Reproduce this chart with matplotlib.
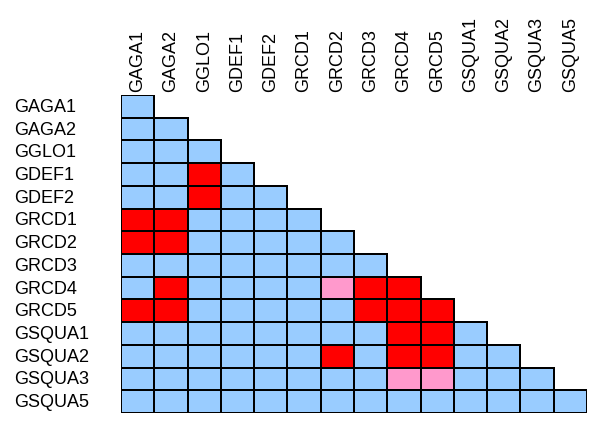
import matplotlib
matplotlib.use('Agg')
import matplotlib.pyplot as plt
import numpy as np
from matplotlib.colors import ListedColormap

plt.rcParams['font.family'] = ['Liberation Sans', 'DejaVu Sans']

# gene names (rows and columns)
genes = ['GAGA1', 'GAGA2', 'GGLO1', 'GDEF1', 'GDEF2', 'GRCD1', 'GRCD2',
         'GRCD3', 'GRCD4', 'GRCD5', 'GSQUA1', 'GSQUA2', 'GSQUA3', 'GSQUA5']

# lower triangle of the interaction matrix: 0 = none, 1 = strong, 2 = weak
rows = [
    [0],
    [0, 0],
    [0, 0, 0],
    [0, 0, 1, 0],
    [0, 0, 1, 0, 0],
    [1, 1, 0, 0, 0, 0],
    [1, 1, 0, 0, 0, 0, 0],
    [0, 0, 0, 0, 0, 0, 0, 0],
    [0, 1, 0, 0, 0, 0, 2, 1, 1],
    [1, 1, 0, 0, 0, 0, 0, 1, 1, 1],
    [0, 0, 0, 0, 0, 0, 0, 0, 1, 1, 0],
    [0, 0, 0, 0, 0, 0, 1, 0, 1, 1, 0, 0],
    [0, 0, 0, 0, 0, 0, 0, 0, 2, 2, 0, 0, 0],
    [0, 0, 0, 0, 0, 0, 0, 0, 0, 0, 0, 0, 0, 0],
]

n = len(genes)
cmap = ListedColormap(['#99CCFF', '#FF0000', '#FF99CC'])

fig = plt.figure(figsize=(6, 4.27), dpi=100)
ax = fig.add_axes([121 / 600, 13 / 427, 466 / 600, 318 / 427])

# one mesh per row so the empty upper triangle gets no outlines
for i, r in enumerate(rows):
    ax.pcolormesh(np.arange(len(r) + 1), [i, i + 1], np.array([r]),
                  cmap=cmap, vmin=-0.5, vmax=2.5,
                  edgecolors='black', linewidth=1.4)

ax.set_xlim(0, n)
ax.set_ylim(n, 0)
ax.axis('off')

for i, g in enumerate(genes):
    ax.text(-0.2296, i + 0.5, g, transform=ax.get_yaxis_transform(),
            ha='left', va='center', fontsize=13)
    ax.text(i + 0.5, -0.18, g, rotation=90, ha='center', va='bottom',
            fontsize=13)

fig.savefig('out.png', dpi=100)
